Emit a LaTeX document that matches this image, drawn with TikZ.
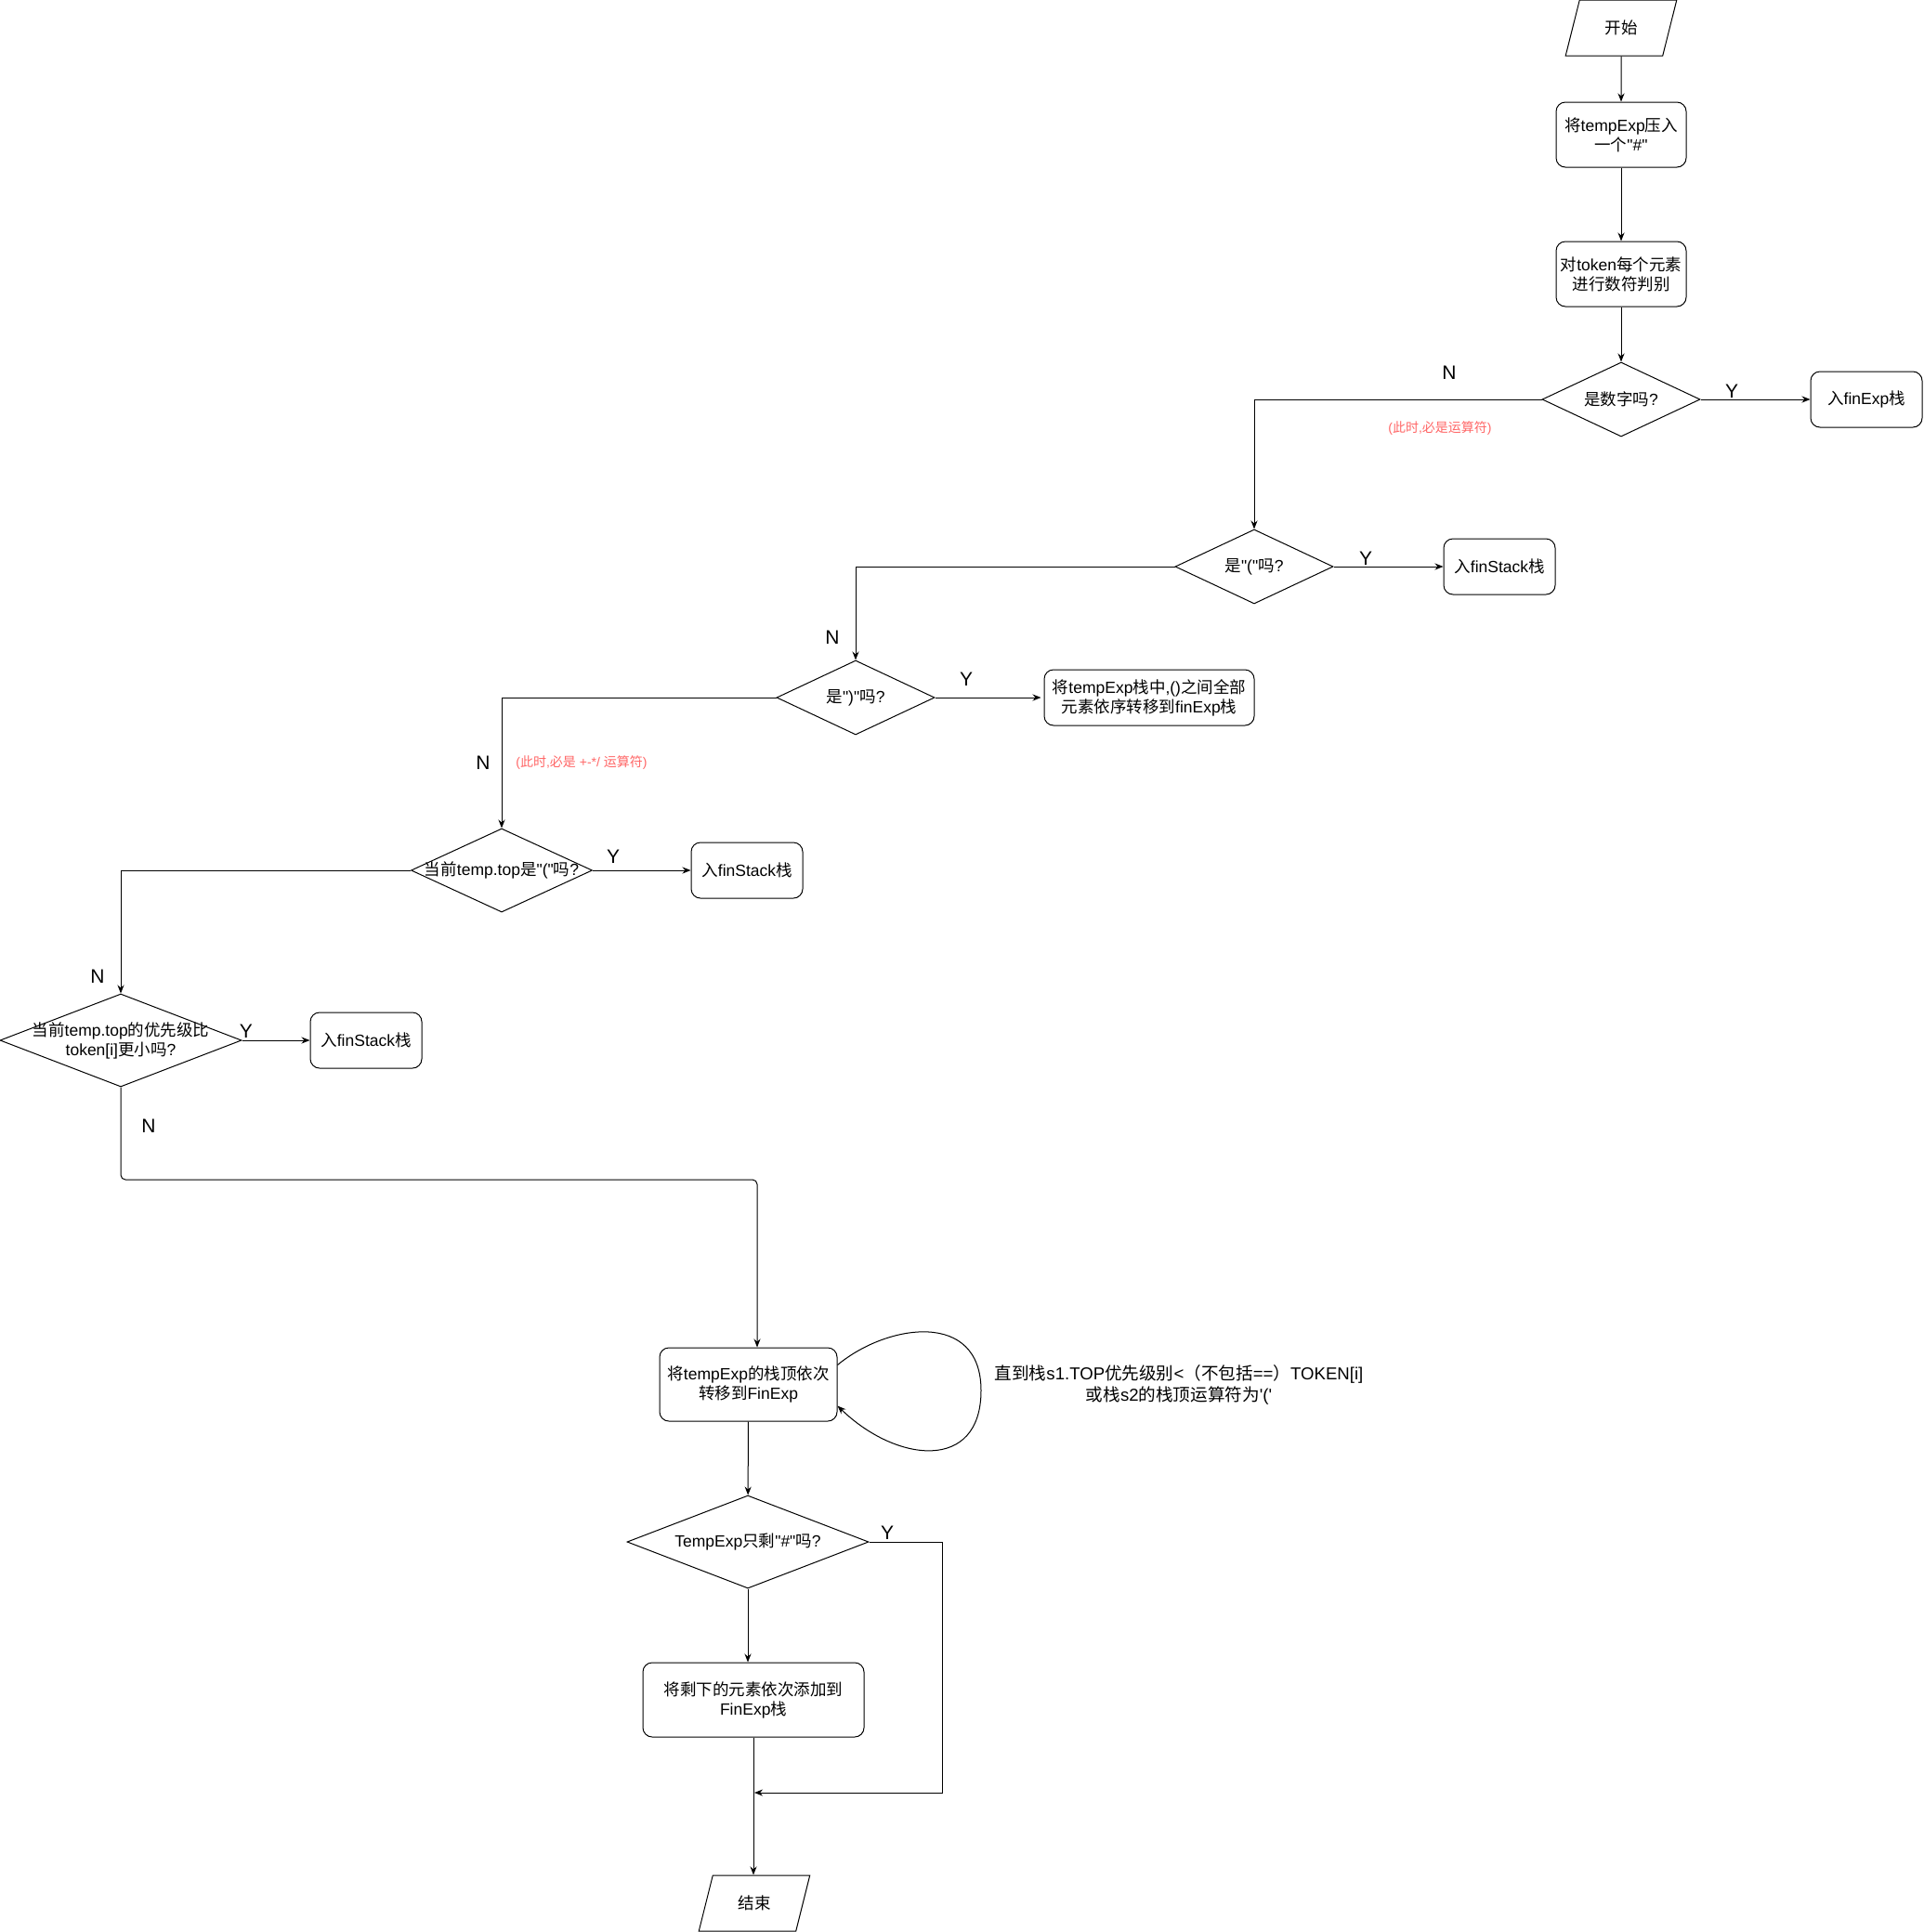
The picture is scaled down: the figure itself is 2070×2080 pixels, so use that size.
\documentclass[tikz,border=0pt]{standalone}
\usepackage{fontspec}
\newfontfamily\cjk{Noto Sans CJK SC}
\newfontfamily\latn{Liberation Sans}
\usetikzlibrary{shapes.geometric,arrows.meta}
\definecolor{redtxt}{RGB}{255,102,102}
% automatic switch to the CJK font for CJK characters
\XeTeXinterchartokenstate=1
\newXeTeXintercharclass\CJKcls
\newcount\cjkcnt
\def\setcjkrange#1#2{\cjkcnt=#1\relax
  \loop\XeTeXcharclass\cjkcnt=\CJKcls\relax
  \ifnum\cjkcnt<#2\relax\advance\cjkcnt by 1\relax\repeat}
\setcjkrange{"4E00}{"9FFF}
\setcjkrange{"3000}{"303F}
\setcjkrange{"FF00}{"FFEF}
\XeTeXinterchartoks 0 \CJKcls = {\cjk}
\XeTeXinterchartoks 4095 \CJKcls = {\cjk}
\XeTeXinterchartoks \CJKcls 0 = {\latn}
\XeTeXinterchartoks \CJKcls 4095 = {\latn}
\begin{document}
\begin{tikzpicture}[x=1pt,y=-1pt,
  every node/.style={font=\latn\fontsize{17.5}{21}\selectfont, text=black},
  ln/.style={line width=1pt},
  arr/.style={ln,-{Stealth[length=9pt,width=7pt]}},
  box/.style={draw, ln, rounded corners=10pt, align=center, inner sep=2pt},
  dec/.style={draw, ln, diamond, inner sep=0pt},
  dtext/.style={align=center, inner sep=0pt},
  io/.style={draw, ln, trapezium, trapezium left angle=70, trapezium right angle=110,
             trapezium stretches=true, minimum width=120pt, minimum height=60pt, inner sep=0pt},
  yn/.style={font=\latn\fontsize{21}{25}\selectfont},
  redlbl/.style={font=\latn\fontsize{14}{17}\selectfont, text=redtxt},
  notelbl/.style={font=\latn\fontsize{18.6}{23}\selectfont, align=center},
]
\useasboundingbox (0,0) rectangle (2070,2080);

% nodes
\node[io] (start) at (1745,30) {开始};
\node[box, minimum width=140pt, minimum height=70pt] (b1) at (1745,145) {将tempExp压入\\一个"\#"};
\node[box, minimum width=140pt, minimum height=70pt] (b2) at (1745,295) {对token每个元素\\进行数符判别};

\node[dec, minimum width=170pt, minimum height=80pt] (d1) at (1745,430) {};
\node[dtext] (d1t) at (d1) {是数字吗?};
\node[box, minimum width=120pt, minimum height=60pt] (y1) at (2009,430) {入finExp栈};

\node[dec, minimum width=170pt, minimum height=80pt] (d2) at (1350,610) {};
\node[dtext] (d2t) at (d2) {是"("吗?};
\node[box, minimum width=120pt, minimum height=60pt] (s1) at (1614,610) {入finStack栈};

\node[dec, minimum width=170pt, minimum height=80pt] (d3) at (921,751) {};
\node[dtext] (d3t) at (d3) {是")"吗?};
\node[box, minimum width=226pt, minimum height=60pt] (t1) at (1237,751) {将tempExp栈中,()之间全部\\元素依序转移到finExp栈};

\node[dec, minimum width=195pt, minimum height=90pt] (d4) at (540,937) {};
\node[dtext] (d4t) at (d4) {当前temp.top是"("吗?};
\node[box, minimum width=120pt, minimum height=60pt] (s2) at (804,937) {入finStack栈};

\node[dec, minimum width=260pt, minimum height=100pt] (d5) at (130,1120) {};
\node[dtext] (d5t) at (d5) {当前temp.top的优先级比\\token[i]更小吗?};
\node[box, minimum width=120pt, minimum height=60pt] (s3) at (394,1120) {入finStack栈};

\node[box, minimum width=191pt, minimum height=79pt] (b4) at (805.5,1490.5) {将tempExp的栈顶依次\\转移到FinExp};
\node[notelbl] (note) at (1269,1491) {直到栈s1.TOP优先级别<（不包括==）TOKEN[i]\\或栈s2的栈顶运算符为'('};

\node[dec, minimum width=260pt, minimum height=100pt] (d6) at (805,1660) {};
\node[dtext] (d6t) at (d6) {TempExp只剩"\#"吗?};
\node[box, minimum width=238pt, minimum height=80pt] (b5) at (811,1830) {将剩下的元素依次添加到\\FinExp栈};

\node[io] (end) at (812,2049) {结束};

% labels
\node[yn] (n1) at (1560,401) {N};
\node[yn] (ly1) at (1864,421) {Y};
\node[redlbl] (r1) at (1550,461) {(此时,必是运算符)};
\node[yn] (ly2) at (1470,601) {Y};
\node[yn] (n3) at (896,686) {N};
\node[yn] (ly3) at (1040,731) {Y};
\node[yn] (n4) at (520,821) {N};
\node[redlbl] (r2) at (626,821) {(此时,必是 +-*/ 运算符)};
\node[yn] (ly4) at (660,922) {Y};
\node[yn] (n5) at (105,1051) {N};
\node[yn] (ly5) at (265,1110) {Y};
\node[yn] (n6) at (160,1212) {N};
\node[yn] (ly6) at (955,1650) {Y};

% coordinates
\coordinate (k1) at (815,1270);
\coordinate (k2) at (1014,1930);
\coordinate (k3) at (812,1930);

% connectors
\draw[arr] (start) -- (b1);
\draw[arr] (b1) -- (b2);
\draw[arr] (b2) -- (d1);
\draw[arr] (d1.east) -- (y1.west);
\draw[arr] (d1.west) -| (d2.north);
\draw[arr] (d2.east) -- (s1.west);
\draw[arr] (d2.west) -| (d3.north);
\draw[arr] (d3.east) -- ([xshift=-3pt]t1.west);
\draw[arr] (d3.west) -| (d4.north);
\draw[arr] (d4.east) -- (s2.west);
\draw[arr] (d4.west) -| (d5.north);
\draw[arr] (d5.east) -- (s3.west);
\draw[arr, rounded corners=5pt] (d5.south) |- (k1) -- (b4.north -| k1);
\draw[arr] ([yshift=21pt]b4.east) .. controls (955,1425) and (1056,1410) .. (1056,1497)
           .. controls (1056,1585) and (965,1575) .. ([yshift=-23pt]b4.east);
\draw[arr] (b4) -- (d6);
\draw[arr] (d6.south) -- (d6.south |- b5.north);
\draw[arr] (d6.east) -| (k2) -- (k3);
\draw[arr] (b5.south) -- (b5.south |- end.north);
\end{tikzpicture}
\end{document}
